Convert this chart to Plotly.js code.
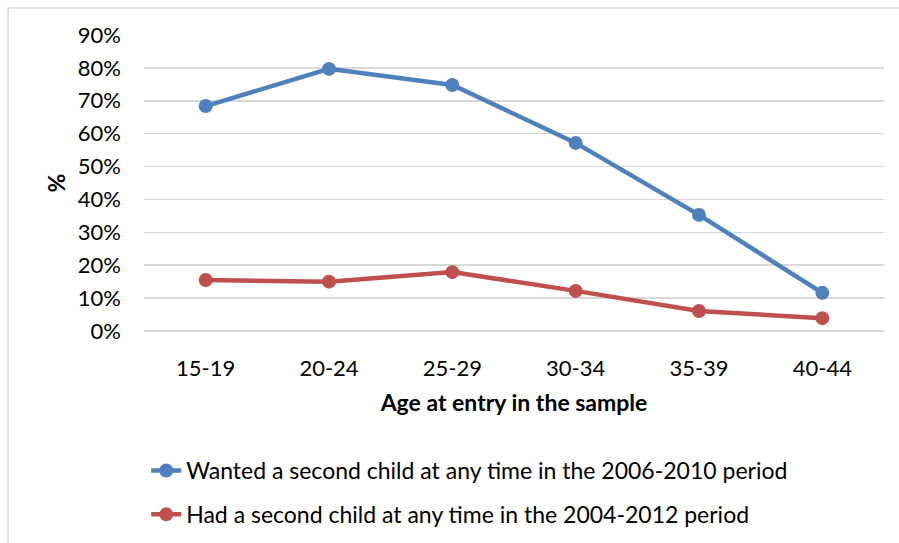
<!DOCTYPE html>
<html>
<head>
<meta charset="utf-8">
<script src="https://cdn.plot.ly/plotly-3.0.1.min.js"></script>
<style>html,body{margin:0;padding:0;background:#fff;}#chart{width:899px;height:543px;}</style>
</head>
<body>
<div id="chart"></div>
<script>
var categories = ["15-19", "20-24", "25-29", "30-34", "35-39", "40-44"];
var wantedSecond = [0.684, 0.797, 0.748, 0.572, 0.353, 0.116];
var hadSecond = [0.155, 0.150, 0.179, 0.122, 0.061, 0.039];
var seriesNames = [
  "Wanted a second child at any time in the 2006-2010 period",
  "Had a second child at any time in the 2004-2012 period"
];
var yTicks = [0, 0.1, 0.2, 0.3, 0.4, 0.5, 0.6, 0.7, 0.8, 0.9];

var font = "Lato, 'Open Sans', sans-serif";
var traces = [
  {x: categories, y: wantedSecond, name: seriesNames[0], type: "scatter", mode: "lines+markers",
   line: {color: "#4F81BD", width: 4.5}, marker: {color: "#4F81BD", size: 14}, legendgroup: "a"},
  {x: categories, y: hadSecond, name: seriesNames[1], type: "scatter", mode: "lines+markers",
   line: {color: "#C0504D", width: 4.5}, marker: {color: "#C0504D", size: 14}, legendgroup: "b"}
];
var layout = {
  width: 899, height: 543,
  margin: {l: 144, r: 14.5, t: 35, b: 212},
  paper_bgcolor: "#fff", plot_bgcolor: "#fff",
  font: {family: font, color: "#000", size: 22},
  showlegend: true,
  legend: {xref: "paper", x: 0.003, xanchor: "left", yref: "container", y: (543 - 449) / 543, yanchor: "top",
           font: {size: 23, family: font},
           tracegroupgap: 11, traceorder: "grouped", bgcolor: "rgba(0,0,0,0)"},
  xaxis: {type: "category", range: [-0.5, 5.5], showgrid: false, zeroline: false, showline: false,
          ticks: "", ticklabelstandoff: 22, tickfont: {size: 22},
          title: {text: "<b>Age at entry in the sample</b>", font: {size: 23}, standoff: 14}},
  yaxis: {range: [0, 0.9], tickvals: yTicks, tickformat: ".0%", showgrid: true,
          gridcolor: "#d9d9d9", gridwidth: 1.5, zeroline: true, zerolinecolor: "#d9d9d9",
          zerolinewidth: 1.5, showline: false, ticks: "", ticklabelstandoff: 22,
          tickfont: {size: 22},
          title: {text: "<b>%</b>", font: {size: 23}, standoff: 5}},
  shapes: [{type: "rect", xref: "paper", yref: "paper",
            x0: (8 - 144) / 740.5, x1: 1.2, y0: -1, y1: 1 + (35 - 8) / 296,
            line: {color: "#d9d9d9", width: 1.5}, fillcolor: "rgba(0,0,0,0)", layer: "below"}]
};
Plotly.newPlot("chart", traces, layout, {displayModeBar: false, staticPlot: true});
</script>
</body>
</html>
